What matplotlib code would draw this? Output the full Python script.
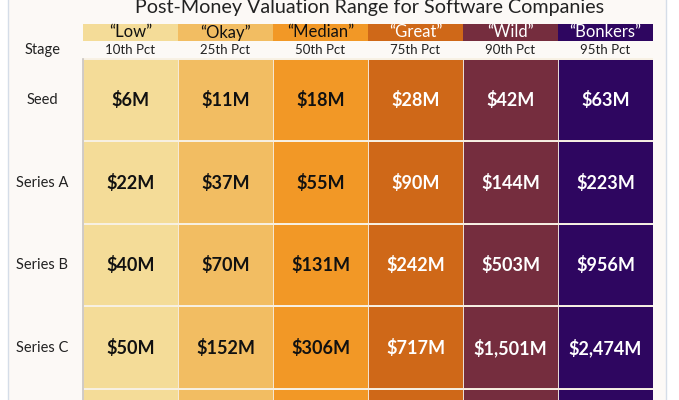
import matplotlib.pyplot as plt
from matplotlib.patches import Rectangle

# data
title = "Post-Money Valuation Range for Software Companies"
tiers = ["\u201cLow\u201d", "\u201cOkay\u201d", "\u201cMedian\u201d", "\u201cGreat\u201d", "\u201cWild\u201d", "\u201cBonkers\u201d"]
percentiles = ["10th Pct", "25th Pct", "50th Pct", "75th Pct", "90th Pct", "95th Pct"]
stages = ["Seed", "Series A", "Series B", "Series C"]
seed = ["$6M", "$11M", "$18M", "$28M", "$42M", "$63M"]
series_a = ["$22M", "$37M", "$55M", "$90M", "$144M", "$223M"]
series_b = ["$40M", "$70M", "$131M", "$242M", "$503M", "$956M"]
series_c = ["$50M", "$152M", "$306M", "$717M", "$1,501M", "$2,474M"]
values = [seed, series_a, series_b, series_c]

# styling
col_colors = ["#f4dc98", "#f2bd62", "#f29826", "#cf6818", "#752d3e", "#2e0660"]
text_colors = ["#111111", "#111111", "#111111", "white", "white", "white"]
bg = "#fcf9f6"
font = "Lato"

W, H = 679, 400
fig = plt.figure(figsize=(W / 100, H / 100), dpi=100)
fig.patch.set_facecolor("white")

# card background with faint border
card = fig.add_axes([0, 0, 1, 1])
card.set_xlim(0, W)
card.set_ylim(H, 0)
card.axis("off")
card.add_patch(Rectangle((8, -5), 658, H + 10, facecolor=bg, edgecolor="#d5dde8", lw=1))
card.text(370, 13, title, ha="center", va="baseline", fontsize=14.2, family=font, color="#222222")

# table axes: one unit per data row / column
x0, x1 = 83, 653
y_top, row_h = 24, 82.5
head_h, pct_h = 17 / row_h, 18 / row_h
ax = fig.add_axes([x0 / W, 0, (x1 - x0) / W, (H - y_top) / H])
ax.set_xlim(0, len(tiers))
ax.set_ylim((H - 59) / row_h, -(head_h + pct_h))
ax.axis("off")

# header rows
ax.bar(range(len(tiers)), [head_h] * len(tiers), bottom=-(head_h + pct_h), width=1,
       align="edge", color=col_colors, linewidth=0)
for i, (t, p) in enumerate(zip(tiers, percentiles)):
    ax.text(i + 0.5, -(pct_h + head_h / 2), t, ha="center", va="center",
            fontsize=12, family=font, color=text_colors[i])
    ax.text(i + 0.5, -pct_h / 2, p, ha="center", va="center",
            fontsize=9.5, family=font, color="#222222")

# data cells (plus the partially visible next row)
n_rows = len(stages) + 1
for r in range(n_rows):
    ax.bar(range(len(tiers)), [1] * len(tiers), bottom=r, width=1, align="edge",
           color=col_colors, edgecolor="#f6eee2", linewidth=0.6)
    ax.axhline(r, color="#f8f1e4", lw=1.4)
    if r < len(stages):
        for i, v in enumerate(values[r]):
            ax.text(i + 0.5, r + 0.5, v, ha="center", va="center", fontsize=13,
                    fontweight="bold", family=font, color=text_colors[i])
        ax.text(-0.43, r + 0.5, stages[r], ha="center", va="center", fontsize=10.5,
                family=font, color="#222222", clip_on=False)
ax.text(-0.43, -pct_h / 2, "Stage", ha="center", va="center", fontsize=10.5,
        family=font, color="#222222", clip_on=False)
ax.plot([0, 0], [0, n_rows], color="#c9c4bf", lw=1.2, clip_on=False)

fig.savefig("out.png", dpi=100)
